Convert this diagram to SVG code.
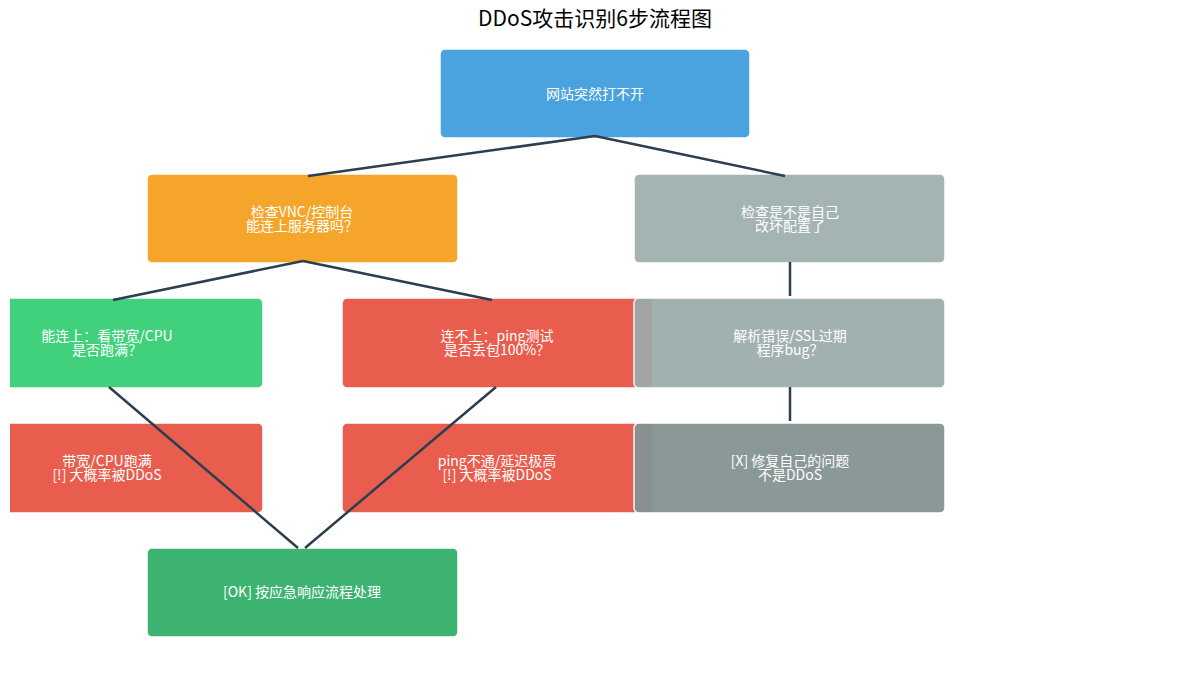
<svg xmlns="http://www.w3.org/2000/svg" width="1190" height="686" viewBox="0 0 1190 686">
<style>
text{font-family:"Noto Sans CJK SC","Noto Sans",sans-serif;fill:#fff;font-size:14px;text-anchor:middle}
.t{fill:#000;font-size:21px}
.e{stroke:#2c3e50;stroke-width:2.5;fill:none}
.n{stroke:#fff;stroke-width:1.5}
</style>
<defs><clipPath id="c"><rect x="10" y="0" width="1180" height="686"/></clipPath></defs>
<rect width="1190" height="686" fill="#fff"/>
<text class="t" x="595" y="26">DDoS攻击识别6步流程图</text>
<g clip-path="url(#c)">
<g id="n1"><rect class="n" x="440" y="49" width="310" height="89" rx="5" fill="#4aa3df"/><text x="595" y="99">网站突然打不开</text></g>
<g id="n2"><rect class="n" x="147" y="174" width="311" height="89" rx="5" fill="#f5a62a"/><text x="302" y="217">检查VNC/控制台</text><text x="302" y="231">能连上服务器吗？</text></g>
<g id="n3"><rect class="n" x="634" y="174" width="311" height="89" rx="5" fill="#9fb0af" opacity="0.95"/><text x="790" y="217">检查是不是自己</text><text x="790" y="231">改坏配置了</text></g>
<g id="n4"><rect class="n" x="-48" y="298" width="311" height="90" rx="5" fill="#41d17d"/><text x="107" y="341">能连上：看带宽/CPU</text><text x="107" y="355">是否跑满？</text></g>
<g id="n5"><rect class="n" x="342" y="298" width="311" height="90" rx="5" fill="#e95d4e"/><text x="497" y="341">连不上：ping测试</text><text x="497" y="355">是否丢包100%？</text></g>
<g id="n6"><rect class="n" x="634" y="298" width="311" height="90" rx="5" fill="#9aabaa" opacity="0.92"/><text x="790" y="341">解析错误/SSL过期</text><text x="790" y="355">程序bug？</text></g>
<g id="n7"><rect class="n" x="-48" y="423" width="311" height="90" rx="5" fill="#e95d4e"/><text x="107" y="466">带宽/CPU跑满</text><text x="107" y="480">[!] 大概率被DDoS</text></g>
<g id="n8"><rect class="n" x="342" y="423" width="311" height="90" rx="5" fill="#e95d4e"/><text x="497" y="466">ping不通/延迟极高</text><text x="497" y="480">[!] 大概率被DDoS</text></g>
<g id="n9"><rect class="n" x="634" y="423" width="311" height="90" rx="5" fill="#859393" opacity="0.95"/><text x="790" y="466">[X] 修复自己的问题</text><text x="790" y="480">不是DDoS</text></g>
<g id="n10"><rect class="n" x="147" y="548" width="311" height="89" rx="5" fill="#3cb371"/><text x="302" y="597">[OK] 按应急响应流程处理</text></g>
</g>
<g id="edges">
<path class="e" d="M595 136L308 176M595 136L785 176M303 261L113 300M303 261L492 300M790 262V296M790 387V421M109 387L298 548M496 387L305 548"/>
</g>
</svg>
